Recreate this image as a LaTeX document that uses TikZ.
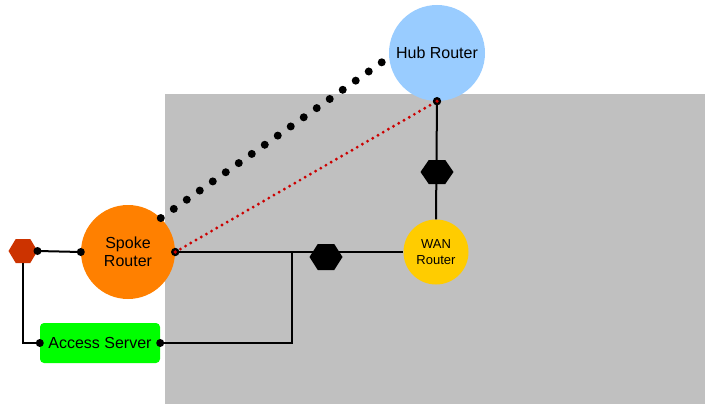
\documentclass[tikz,border=0pt]{standalone}
\usepackage{fontspec}
\setmainfont{Liberation Sans}
\usetikzlibrary{calc}
\definecolor{zone}{HTML}{C0C0C0}
\definecolor{hubblue}{HTML}{99CCFF}
\definecolor{spokeorange}{HTML}{FF8000}
\definecolor{wanyellow}{HTML}{FFCC00}
\definecolor{servergreen}{HTML}{00FF00}
\definecolor{hexred}{HTML}{CC3300}
\definecolor{tunnelred}{HTML}{CC0000}
\begin{document}
\begin{tikzpicture}[x=1pt,y=-1pt,
  router/.style={circle, inner sep=0pt, align=center, font=\fontsize{16}{17.5}\selectfont},
  hexbox/.style={inner sep=0pt, outer sep=0pt, path picture={
    \fill[#1] (path picture bounding box.west)
      -- ($(path picture bounding box.north west)!0.25!(path picture bounding box.north east)$)
      -- ($(path picture bounding box.north west)!0.75!(path picture bounding box.north east)$)
      -- (path picture bounding box.east)
      -- ($(path picture bounding box.south west)!0.75!(path picture bounding box.south east)$)
      -- ($(path picture bounding box.south west)!0.25!(path picture bounding box.south east)$)
      -- cycle;}},
  link/.style={line width=2pt},
  tunnel/.style={line width=8pt, line cap=round, dash pattern=on 0pt off 15.9pt},
  ipsec/.style={line width=3.2pt, line cap=round, color=tunnelred, dash pattern=on 0pt off 6pt},
]
\useasboundingbox (0,0) rectangle (705,404);
% shaded network zone
\fill[zone] (165,94) rectangle (705,404);

% devices
\node[router, fill=hubblue, minimum size=96pt] (hub) at (437,53) {Hub Router};
\node[router, fill=spokeorange, minimum size=94pt] (spoke) at (128,252) {Spoke\\Router};
\node[router, fill=wanyellow, minimum size=65pt, font=\fontsize{13}{16}\selectfont] (wan) at (436,252) {WAN\\Router};
\node[fill=servergreen, rounded corners=4pt, minimum width=120pt, minimum height=40pt,
      inner sep=0pt, font=\fontsize{16}{18}\selectfont] (access) at (100,343) {Access Server};

% hexagonal markers
\node[hexbox=hexred, minimum width=29pt, minimum height=24pt] (hexl) at (23,251) {};
\node[hexbox=black, minimum width=33pt, minimum height=26pt] (hexm) at (326,257) {};
\node[hexbox=black, minimum width=33pt, minimum height=24pt] (hexv) at (437,172) {};
\coordinate (junc) at (292,252);

% wired links
\draw[link] (hexl.east) -- (spoke.west);
\draw[link] (hexl.south) |- (access.west);
\draw[link] (spoke.east) -- (wan.west);
\draw[link] (access.east) -| (junc);
\draw[link] (hub.south) -- (wan.north);

% tunnels
\draw[tunnel] (spoke.46) -- ($(hub.185)!7pt!(spoke.46)$);
\draw[ipsec] (spoke.east) -- (hub.south);

% connection points
\foreach \p in {hexl.east, spoke.west, access.west, access.east}
  \fill (\p) circle (4pt);
\foreach \p in {spoke.east, hub.south} {
  \fill (\p) circle (4.2pt);
  \fill[tunnelred] (\p) circle (1.8pt);
}
\end{tikzpicture}
\end{document}
